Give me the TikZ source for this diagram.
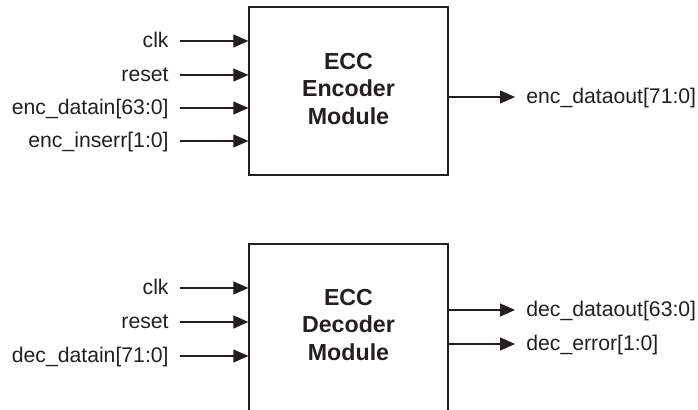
\documentclass[tikz,border=0pt]{standalone}
\usepackage{fontspec}
\setmainfont{Liberation Sans}
\usetikzlibrary{arrows.meta}
\definecolor{ink}{HTML}{231F20}

\begin{document}
\begin{tikzpicture}[x=0.5pt, y=-0.5pt,
    modbox/.style={draw=ink, line width=0.6pt, minimum width=99.5pt, inner sep=0pt},
    modtext/.style={text=ink, align=center, font=\bfseries\fontsize{11.6}{13.6}\selectfont},
    sig/.style={text=ink, inner ysep=0pt, inner xsep=5.5pt, text height=9pt, text depth=2pt,
        font=\fontsize{10.6}{12}\selectfont},
    wire/.style={draw=ink, line width=0.55pt, -{Triangle[length=7.5pt, width=6.5pt]}}]
    \useasboundingbox (0,0) rectangle (698,410);
    \clip (0,0) rectangle (698,410);

    % encoder block
    \node[modbox, minimum height=84pt] (enc) at (348.5,91) {};
    \node[modtext] (encname) at (348.5,89) {ECC\\Encoder\\Module};
    \foreach \name/\txt/\yy in {eclk/clk/41, erst/reset/75, edin/enc\_datain[63:0]/108, eins/enc\_inserr[1:0]/141} {
        \node[sig, anchor=east] (\name) at (180,\yy) {\txt};
        \draw[wire] (\name.east) -- (\name.east -| enc.west);
    }
    \node[sig, anchor=west] (edout) at (515,97) {enc\_dataout[71:0]};
    \draw[wire] (edout.west -| enc.east) -- (edout.west);

    % decoder block (runs off the bottom)
    \node[modbox, minimum height=90pt] (dec) at (348.5,334) {};
    \node[modtext] (decname) at (348.5,325) {ECC\\Decoder\\Module};
    \foreach \name/\txt/\yy in {dclk/clk/288, drst/reset/322, ddin/dec\_datain[71:0]/356} {
        \node[sig, anchor=east] (\name) at (180,\yy) {\txt};
        \draw[wire] (\name.east) -- (\name.east -| dec.west);
    }
    \foreach \name/\txt/\yy in {ddout/dec\_dataout[63:0]/310, derr/dec\_error[1:0]/344} {
        \node[sig, anchor=west] (\name) at (515,\yy) {\txt};
        \draw[wire] (\name.west -| dec.east) -- (\name.west);
    }
\end{tikzpicture}
\end{document}
